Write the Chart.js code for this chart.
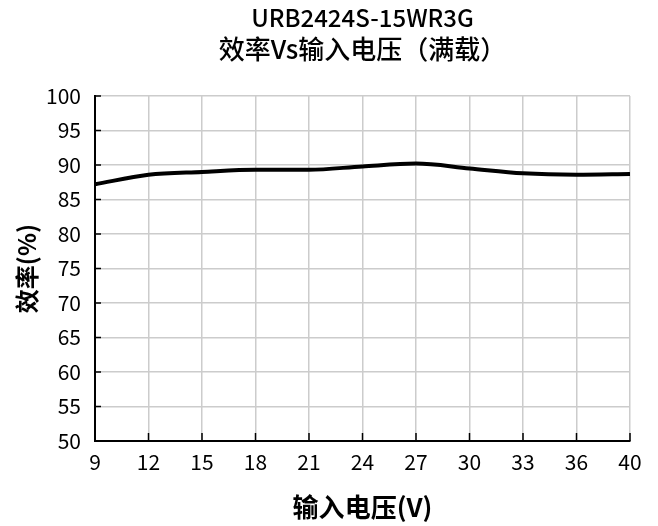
<!DOCTYPE html>
<html>
<head>
<meta charset="utf-8">
<script src="https://cdn.jsdelivr.net/npm/chart.js@4/dist/chart.umd.min.js"></script>
<style>
  html, body { margin: 0; padding: 0; background: #fff; }
  #wrap { width: 658px; height: 526px; }
</style>
</head>
<body>
<div id="wrap"><canvas id="effChart" width="658" height="526"></canvas></div>
<script>
// datos
const voltages   = ['9','12','15','18','21','24','27','30','33','36','40'];
const efficiency = [87.2, 88.6, 89.0, 89.3, 89.3, 89.8, 90.2, 89.5, 88.8, 88.6, 88.7];
const yTicks     = [50, 55, 60, 65, 70, 75, 80, 85, 90, 95, 100];
const modelName  = 'URB2424S-15WR3G';
const subTitle   = '效率Vs输入电压（满载）';

const FONT = "'Noto Sans CJK SC', sans-serif";

// marcas cortas hacia dentro en los ejes
const innerTicks = {
  id: 'innerTicks',
  afterDatasetsDraw(chart) {
    const { ctx, chartArea, scales } = chart;
    ctx.save();
    ctx.strokeStyle = '#000';
    ctx.lineWidth = 1.5;
    scales.y.ticks.forEach((t, i) => {
      const y = scales.y.getPixelForTick(i);
      ctx.beginPath();
      ctx.moveTo(chartArea.left, y);
      ctx.lineTo(chartArea.left + 6, y);
      ctx.stroke();
    });
    scales.x.ticks.forEach((t, i) => {
      const x = scales.x.getPixelForTick(i);
      ctx.beginPath();
      ctx.moveTo(x, chartArea.bottom);
      ctx.lineTo(x, chartArea.bottom - 8);
      ctx.stroke();
    });
    ctx.restore();
  }
};

new Chart(document.getElementById('effChart').getContext('2d'), {
  type: 'line',
  data: {
    labels: voltages,
    datasets: [{
      data: efficiency,
      borderColor: '#000',
      borderWidth: 4,
      pointRadius: 0,
      tension: 0.4,
      cubicInterpolationMode: 'monotone',
      fill: false
    }]
  },
  options: {
    responsive: false,
    animation: false,
    layout: { padding: { left: 0, right: 28, top: 0, bottom: 0 } },
    plugins: {
      legend: { display: false },
      tooltip: { enabled: false },
      title: {
        display: true,
        fullSize: false,
        text: modelName,
        color: '#000',
        font: { family: FONT, size: 24, weight: '500', lineHeight: 1.2 },
        padding: { top: 3, bottom: 2 }
      },
      subtitle: {
        display: true,
        fullSize: false,
        text: subTitle,
        color: '#000',
        font: { family: FONT, size: 26, weight: '500', lineHeight: 1.2 },
        padding: { top: 0, bottom: 31 }
      }
    },
    scales: {
      x: {
        offset: false,
        afterFit: s => { s.height = 85; },
        grid: { color: '#cccccc', lineWidth: 1.5, drawTicks: false },
        border: { color: '#000', width: 2 },
        ticks: { color: '#000', font: { family: FONT, size: 21 }, padding: 8, maxRotation: 0 },
        title: {
          display: true,
          text: '输入电压(V)',
          color: '#000',
          font: { family: FONT, size: 26, weight: 'bold', lineHeight: 1.2 },
          padding: { top: 0, bottom: 3 }
        }
      },
      y: {
        min: 50,
        max: 100,
        afterFit: s => { s.width = 95; },
        afterBuildTicks: s => { s.ticks = yTicks.map(v => ({ value: v })); },
        grid: { color: '#cccccc', lineWidth: 1.5, drawTicks: false },
        border: { color: '#000', width: 2 },
        ticks: { color: '#000', font: { family: FONT, size: 21 }, padding: 14 },
        title: {
          display: true,
          text: '效率(%)',
          color: '#000',
          font: { family: FONT, size: 24, weight: 'bold', lineHeight: 1.2 },
          padding: { top: 12, bottom: 0 }
        }
      }
    }
  },
  plugins: [innerTicks]
});
</script>
</body>
</html>
